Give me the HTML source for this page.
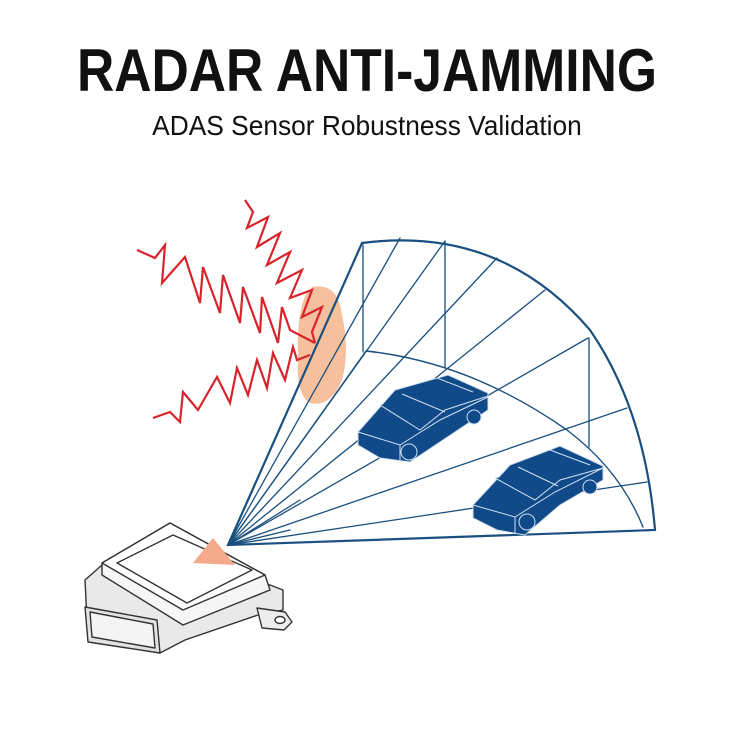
<!DOCTYPE html>
<html><head><meta charset="utf-8"><style>
html,body{margin:0;padding:0;background:#fff;width:734px;height:734px;overflow:hidden}
.t{position:absolute;left:0;width:734px;text-align:center;font-family:"Liberation Sans",sans-serif;color:#111}
</style></head><body>
<div class="t" style="top:36px;font-size:60px;font-weight:bold;transform:scaleX(0.86);">RADAR ANTI-JAMMING</div>
<div class="t" style="top:110px;font-size:28px;transform:scaleX(0.94);">ADAS Sensor Robustness Validation</div>
<svg width="734" height="734" style="position:absolute;left:0;top:0">
<path d="M312 287 Q338 282 342 315 Q350 350 342 380 Q330 408 310 403 Q296 395 298 360 Q296 300 312 287Z" fill="#f6c09d"/>
<g stroke="#1a4f7f" fill="none" stroke-linecap="round">
<path d="M228 545 L362 243 Q500 225 590 330 Q645 410 655 530 Z" stroke-width="2.2"/>
<path d="M366 351 Q470 362 567 430 Q620 470 643 527" stroke-width="1.4"/>
<g stroke-width="1.3">
<line x1="363" y1="245" x2="363" y2="352"/>
<line x1="445" y1="241" x2="445" y2="367"/>
<line x1="589" y1="338" x2="589" y2="447"/>
<line x1="228" y1="545" x2="400" y2="238"/>
<line x1="228" y1="545" x2="445" y2="241"/>
<line x1="228" y1="545" x2="497" y2="258"/>
<line x1="228" y1="545" x2="545" y2="290"/>
<line x1="228" y1="545" x2="588" y2="338"/>
<line x1="228" y1="545" x2="627" y2="408"/>
<line x1="228" y1="545" x2="647" y2="482"/>
<line x1="228" y1="545" x2="366" y2="351"/>
<line x1="228" y1="545" x2="300" y2="500"/>
<line x1="228" y1="545" x2="290" y2="530"/>
</g></g>
<g fill="#104a88" stroke="#cfe0f0" stroke-width="1">
<path d="M358 432 L395 390 L448 375 L488 393 L488 410 L440 442 L410 462 L380 458 L358 445Z"/>
<path d="M358 432 L400 445 L440 420 L488 397 M400 445 L400 460 M380 405 L420 430 L445 410 L488 396 M402 394 L445 412 M437 378 L473 392"/>
<circle cx="409" cy="452" r="8"/><circle cx="474" cy="417" r="7"/>
<path d="M473 505 L510 465 L560 446 L603 466 L603 480 L560 505 L525 535 L497 530 L473 518Z"/>
<path d="M473 505 L515 517 L555 492 L603 468 M515 517 L515 533 M495 478 L535 500 L560 480 L603 468 M518 467 L558 486 M550 450 L590 465"/>
<circle cx="527" cy="522" r="8"/><circle cx="590" cy="487" r="7"/>
</g>
<g stroke="#d9232b" stroke-width="2.2" fill="none">
<polyline points="245,200 253,212 247,228 268,217 257,247 280,233 267,265 290,252 277,283 302,270 290,298 312,290 302,317 322,307 312,332 315,343"/>
<polyline points="137,250 155,258 165,245 162,283 185,257 200,303 203,267 220,313 223,275 240,323 243,287 260,333 262,297 278,343 282,307 290,330 315,343"/>
<polyline points="153,418 170,412 180,422 183,392 198,410 217,377 230,403 237,368 248,395 257,360 267,388 273,353 285,380 293,347 297,360 310,355"/>
</g>
<g stroke="#333" stroke-width="1.4" fill="#fff" stroke-linejoin="round">
<path d="M85 580 L102 565 L270 585 L283 590 L283 610 L258 615 L185 640 L160 653 L88 640 Z" fill="#e9e9e9"/>
<path d="M257 608 L285 612 L292 622 L284 630 L262 628 Z" fill="#ededed"/>
<ellipse cx="280" cy="620" rx="5" ry="3.5"/>
<path d="M102 563 L170 523 L265 575 L270 590 L183 625 L102 575 Z" fill="#f6f6f6"/>
<path d="M102 563 L170 523 L265 575 L183 610 Z"/>
<path d="M117 563 L173 535 L252 570 L187 603 Z"/>
<path d="M85 607 L157 620 L160 653 L88 642 Z" fill="#e2e2e2"/>
<path d="M90 612 L153 624 L155 648 L92 637 Z" fill="#f4f4f4"/>
</g>
<polygon points="193,563 213,538 235,565" fill="#f4a98a"/>
</svg>
</body></html>
